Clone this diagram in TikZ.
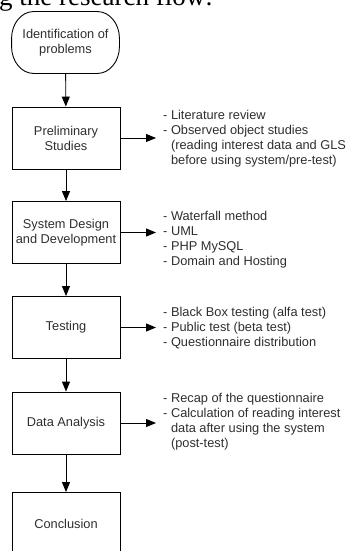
\documentclass[tikz,border=0pt]{standalone}
\usepackage{fontspec}
\setmainfont{Liberation Sans}
\newfontfamily\headserif{Liberation Serif}
\usetikzlibrary{arrows.meta,calc}
\definecolor{inkgray}{HTML}{2E2E2E}
\begin{document}
\begin{tikzpicture}[x=1pt,y=-1pt,
  every node/.style={font=\fontsize{12.8}{15}\selectfont, text=inkgray},
  stagebox/.style={draw=black, line width=0.9pt, minimum width=108pt, minimum height=62pt, align=center, inner sep=2pt},
  terminal/.style={stagebox, draw=none, minimum width=107pt, minimum height=61pt},
  outline/.style={draw=black, line width=0.9pt},
  notetext/.style={align=left, anchor=west, inner xsep=7pt, inner ysep=0pt},
  flow/.style={draw=black, line width=0.9pt, -{Triangle[length=10pt,width=8pt]}}
]
\useasboundingbox (0,0) rectangle (348,551);
\clip (0,0) rectangle (348,551);

% heading line running off the top edge
\node[anchor=base east, inner sep=0pt, text=black, font=\headserif\fontsize{27}{30}\selectfont] (head) at (213,5.5) {ng the research flow:};

% start terminal with elliptical corners
\node[terminal] (ident) at (65.5,42.5) {Identification of\\problems};
\draw[outline]
  ($(ident.north west)+(22,0)$) -- ($(ident.north east)+(-22,0)$)
  .. controls ($(ident.north east)+(-9.85,0)$) and ($(ident.north east)+(0,12.1)$) .. ($(ident.north east)+(0,27)$)
  -- ($(ident.south east)+(0,-27)$)
  .. controls ($(ident.south east)+(0,-12.1)$) and ($(ident.south east)+(-9.85,0)$) .. ($(ident.south east)+(-22,0)$)
  -- ($(ident.south west)+(22,0)$)
  .. controls ($(ident.south west)+(9.85,0)$) and ($(ident.south west)+(0,-12.1)$) .. ($(ident.south west)+(0,-27)$)
  -- ($(ident.north west)+(0,27)$)
  .. controls ($(ident.north west)+(0,12.1)$) and ($(ident.north west)+(9.85,0)$) .. cycle;

% stages
\node[stagebox] (prelim) at (66,138) {Preliminary\\Studies};
\node[stagebox] (design) at (66,232.5) {System Design\\and Development};
\node[stagebox] (test) at (66,327.5) {Testing};
\node[stagebox] (data) at (66,423) {Data Analysis};
\node[stagebox] (concl) at (66,523.5) {Conclusion};

% notes beside the stages
\node[notetext] (nprelim) at (156,138.5) {- Literature review\\- Observed object studies\\\phantom{- }(reading interest data and GLS\\\phantom{- }before using system/pre-test)};
\node[notetext] (ndesign) at (156,240) {- Waterfall method\\- UML\\- PHP MySQL\\- Domain and Hosting};
\node[notetext] (ntest) at (156,328) {- Black Box testing (alfa test)\\- Public test (beta test)\\- Questionnaire distribution};
\node[notetext] (ndata) at (156,422) {- Recap of the questionnaire\\- Calculation of reading interest\\\phantom{- }data after using the system\\\phantom{- }(post-test)};

% main flow
\draw[flow] (ident) -- (prelim);
\draw[flow] (prelim) -- (design);
\draw[flow] (design) -- (test);
\draw[flow] (test) -- (data);
\draw[flow] (data) -- (concl);

% side arrows
\draw[flow] (prelim.east) -- (prelim.east -| nprelim.west);
\draw[flow] (design.east) -- (design.east -| ndesign.west);
\draw[flow] (test.east) -- (test.east -| ntest.west);
\draw[flow] (data.east) -- (data.east -| ndata.west);
\end{tikzpicture}
\end{document}
